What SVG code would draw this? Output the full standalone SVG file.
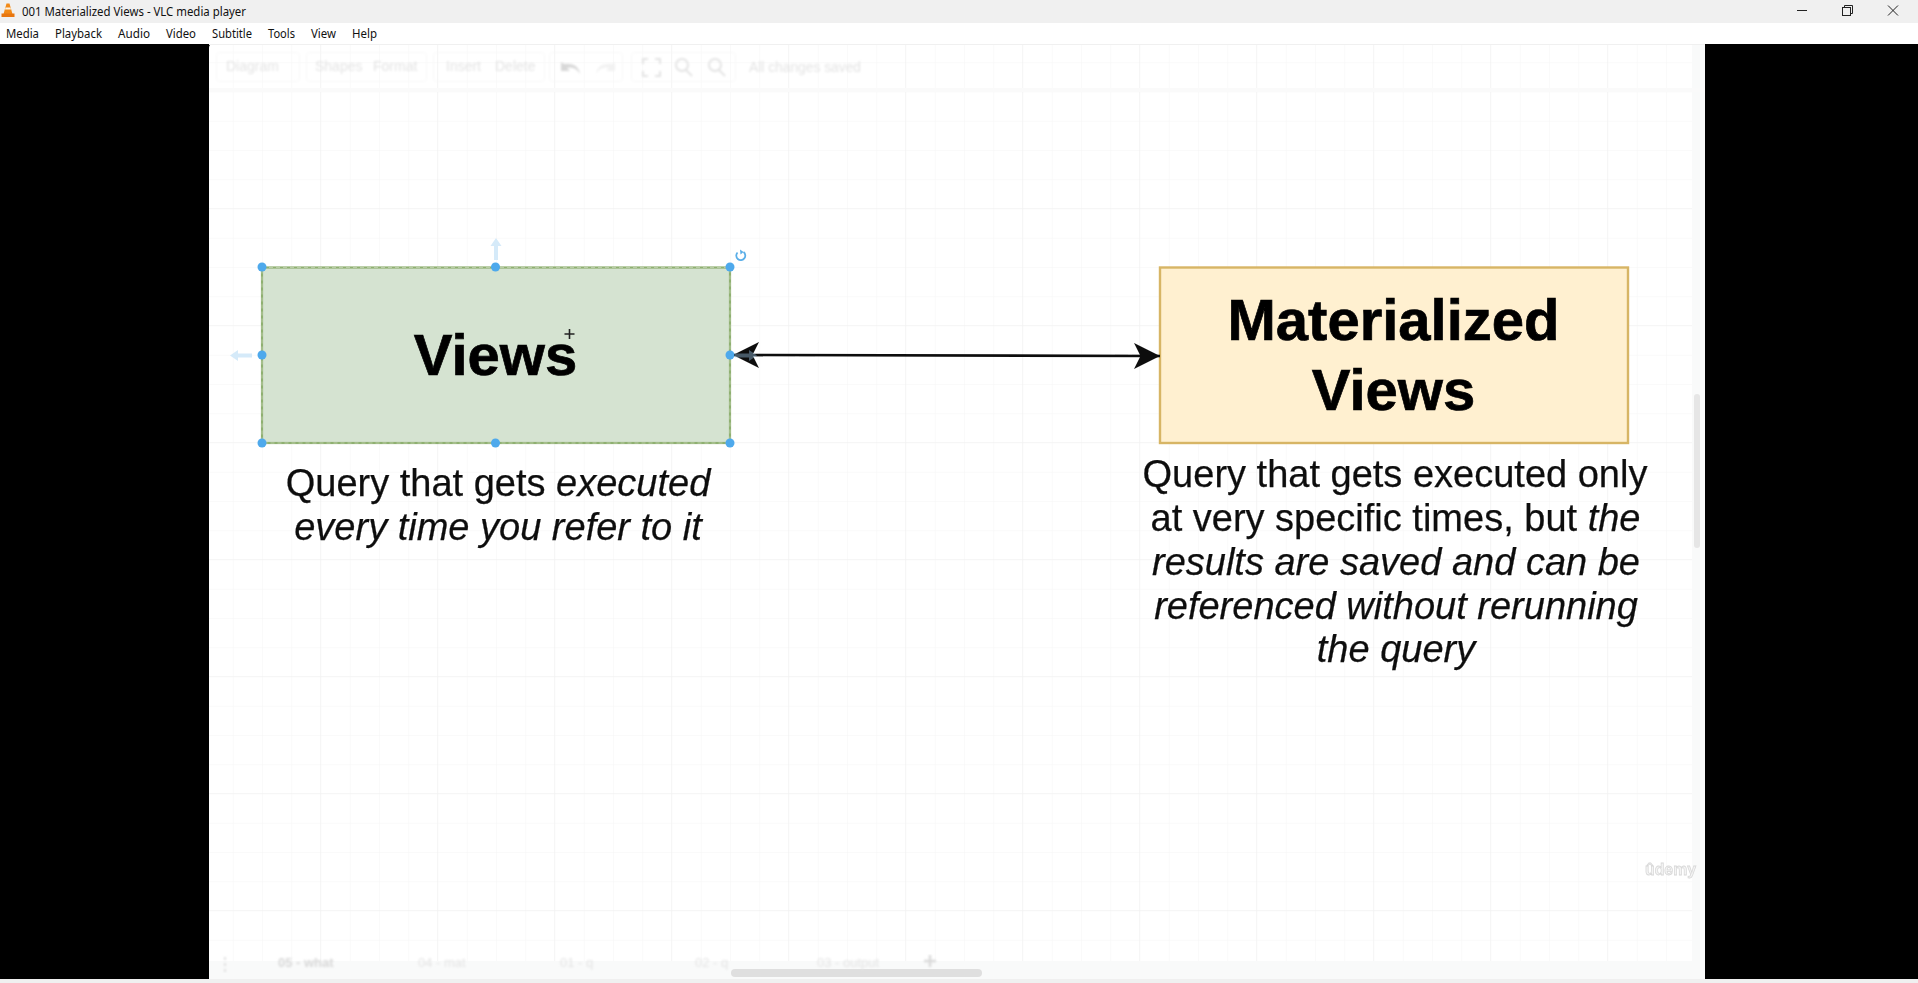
<svg xmlns="http://www.w3.org/2000/svg" width="1918" height="983" viewBox="0 0 1918 983">
<style>
.ui{font-family:"Noto Sans","Open Sans","Liberation Sans",sans-serif;font-size:12px;fill:#111}
.ghost{font-family:"Liberation Sans",Arial,sans-serif;font-size:14px;fill:#e4e4e4}
.ghostbox{fill:none;stroke:#f7f7f7;stroke-width:1}
.title{font-family:"Liberation Sans",Arial,sans-serif;font-size:58px;font-weight:700;fill:#000;stroke:#000;stroke-width:0.7;text-anchor:middle}
.desc{font-family:"Liberation Sans",Arial,sans-serif;font-size:38px;fill:#111;stroke:#111;stroke-width:0.25;text-anchor:middle}
.desc tspan.i{font-style:italic}
.h{fill:#4ea9ec}
.faint{fill:#d5eaf9}
.conn{stroke:#111;stroke-width:2.6;fill:none;marker-start:url(#headL);marker-end:url(#headR)}
</style>
<defs>
<pattern id="grid" x="262" y="267" width="29.25" height="29.25" patternUnits="userSpaceOnUse">
<path d="M0 0H29.25M0 0V29.25" fill="none" stroke="#f5f5f5" stroke-width="1"/>
</pattern>
<pattern id="gridMajor" x="671" y="91" width="117" height="117" patternUnits="userSpaceOnUse">
<path d="M0 0H117M0 0V117" fill="none" stroke="#f0f0f0" stroke-width="1"/>
</pattern>
<marker id="headR" markerUnits="userSpaceOnUse" markerWidth="28" markerHeight="30" refX="26" refY="15" orient="auto">
<path d="M26 15L0 2L6.500 15L0 28Z" fill="#0b0b0b"/>
</marker>
<marker id="headL" markerUnits="userSpaceOnUse" markerWidth="28" markerHeight="30" refX="2" refY="15" orient="auto">
<path d="M2 15L28 2L21.500 15L28 28Z" fill="#0b0b0b"/>
</marker>
<filter id="soft" x="-5%" y="-5%" width="110%" height="110%"><feGaussianBlur stdDeviation="0.9"/></filter>
<filter id="slight" x="-5%" y="-5%" width="110%" height="110%"><feGaussianBlur stdDeviation="0.45"/></filter>
<filter id="slightUser" filterUnits="userSpaceOnUse" x="700" y="320" width="490" height="70"><feGaussianBlur stdDeviation="0.45"/></filter>
</defs>

<rect width="1918" height="983" fill="#000"/>
<g id="window-chrome">
<rect width="1918" height="23" fill="#f0f0f0"/>
<rect y="23" width="1918" height="21" fill="#fff"/>
<rect y="979" width="1918" height="4" fill="#f0f0f0"/>
<g id="vlc-icon">
<path d="M6.500 3.500L9.500 3.500L12.500 14L3.500 14Z" fill="#f28a18"/>
<path d="M5.500 7.500L10.500 7.500L11 9.500L5 9.500Z" fill="#fdf2e0"/>
<path d="M1.500 13.500H14.500V17H1.500Z" fill="#e8760f"/>
</g>
<text class="ui" x="22" y="15.500" textLength="224" lengthAdjust="spacingAndGlyphs">001 Materialized Views - VLC media player</text>
<g id="menu">
<text class="ui" x="6" y="38" textLength="33" lengthAdjust="spacingAndGlyphs">Media</text>
<text class="ui" x="55" y="38" textLength="47" lengthAdjust="spacingAndGlyphs">Playback</text>
<text class="ui" x="118" y="38" textLength="32" lengthAdjust="spacingAndGlyphs">Audio</text>
<text class="ui" x="166" y="38" textLength="30" lengthAdjust="spacingAndGlyphs">Video</text>
<text class="ui" x="212" y="38" textLength="40" lengthAdjust="spacingAndGlyphs">Subtitle</text>
<text class="ui" x="268" y="38" textLength="27" lengthAdjust="spacingAndGlyphs">Tools</text>
<text class="ui" x="311" y="38" textLength="25" lengthAdjust="spacingAndGlyphs">View</text>
<text class="ui" x="352" y="38" textLength="25" lengthAdjust="spacingAndGlyphs">Help</text>
</g>
<g id="window-buttons" fill="none" stroke="#222" stroke-width="1">
<path d="M1797 10.500H1807"/>
<rect x="1842.500" y="7.500" width="8" height="8"/>
<path d="M1844.500 7V5.500H1852.500V13.500H1851"/>
<path d="M1888 5.500L1898 15.500M1898 5.500L1888 15.500"/>
</g>
</g>

<g id="page">
<path d="M209 48Q209 44 213 44H1701Q1705 44 1705 48V975Q1705 979 1701 979H213Q209 979 209 975Z" fill="#fff"/>
<rect x="209" y="44" width="1496" height="935" fill="url(#grid)"/>
<rect x="209" y="44" width="1496" height="935" fill="url(#gridMajor)"/>
<rect x="1692" y="44" width="13" height="935" fill="#f9fafa"/>
<rect x="209" y="961" width="1496" height="18" fill="#f9fafa"/>
<rect x="209" y="44" width="1496" height="1" fill="#f0f0f0"/>
<rect x="209" y="88" width="1496" height="4" fill="#fafafa"/>
<rect x="1694" y="394" width="6" height="154" rx="3" fill="#e6e6e6"/>
<rect x="731" y="969" width="251" height="8" rx="4" fill="#dfdfdf"/>
</g>

<g id="ghost-toolbar" filter="url(#soft)">
<rect class="ghostbox" x="216.500" y="52.500" width="83" height="29" rx="3"/>
<rect class="ghostbox" x="306.500" y="52.500" width="120" height="29" rx="3"/>
<rect class="ghostbox" x="433.500" y="52.500" width="111" height="29" rx="3"/>
<rect class="ghostbox" x="549.500" y="52.500" width="73" height="29" rx="3"/>
<rect class="ghostbox" x="631.500" y="52.500" width="104" height="29" rx="3"/>
<text class="ghost" x="226" y="71">Diagram</text>
<text class="ghost" x="315" y="71">Shapes</text>
<text class="ghost" x="373" y="71">Format</text>
<text class="ghost" x="446" y="71">Insert</text>
<text class="ghost" x="495" y="71">Delete</text>
<text class="ghost" x="749" y="72" textLength="112" lengthAdjust="spacingAndGlyphs">All changes saved</text>
<path d="M561 62v9h9l-3-3q8-2 13 6q-2-12-16-10z" fill="#d8d8d8"/>
<path d="M615 62v9h-9l3-3q-8-2-13 6q2-12 16-10z" fill="#f2f2f2"/>
<path d="M643 64v-5h5M655 59h5v5M660 71v5h-5M648 76h-5v-5" fill="none" stroke="#e4e4e4" stroke-width="2"/>
<g fill="none" stroke="#e4e4e4" stroke-width="2">
<circle cx="682" cy="65" r="6"/><path d="M686 70l6 6"/>
<circle cx="715" cy="65" r="6"/><path d="M719 70l6 6"/>
</g>
</g>

<g id="ghost-tabs" filter="url(#soft)">
<path d="M225 957v3M225 963v3M225 969v3" stroke="#e0e0e0" stroke-width="2"/>
<text class="ghost" x="278" y="967" font-weight="700" style="font-size:13px;fill:#d8d8d8">05 - what</text>
<text class="ghost" x="418" y="967" style="font-size:13px">04 - mat</text>
<text class="ghost" x="560" y="967" style="font-size:13px">01 - q</text>
<text class="ghost" x="695" y="967" style="font-size:13px">02 - q</text>
<text class="ghost" x="817" y="967" style="font-size:13px">03 - output</text>
<path d="M930 955v12M924 961h12" stroke="#dadada" stroke-width="2.500"/>
</g>

<g id="watermark" filter="url(#slight)">
<text x="1645" y="875" font-family="'Liberation Sans',Arial,sans-serif" font-size="17" font-weight="700" fill="#f4f4f4" stroke="#d8d8d8" stroke-width="0.800" textLength="51" lengthAdjust="spacingAndGlyphs">ûdemy</text>
</g>

<g id="selection-hints">
<path d="M496 238l5.500 8h-3.500v14h-4v-14h-3.500z" class="faint"/>
<path d="M230 355.500l8-5.500v3.500h14v4h-14v3.500z" class="faint"/>
</g>

<g id="node-views" filter="url(#slight)">
<rect x="262" y="267.500" width="468" height="175.500" fill="#d5e3d1" stroke="#8fb071" stroke-width="2.200"/>
<rect x="262" y="267.500" width="468" height="175.500" fill="none" stroke="#b9cca6" stroke-width="1" stroke-dasharray="4 3"/>
<text class="title" x="495.500" y="375">Views</text>
</g>

<g id="node-materialized" filter="url(#slight)">
<rect x="1160" y="267.500" width="468" height="175.500" fill="#fff0d0" stroke="#d7b565" stroke-width="2.400"/>
<text class="title" x="1393.500" y="340">Materialized</text>
<text class="title" x="1393.500" y="410">Views</text>
</g>

<g id="connectors" filter="url(#slightUser)">
<path class="conn" d="M733 355L1160 356"/>
</g>

<g id="selection-handles">
<circle class="h" cx="262" cy="267" r="4.500"/>
<circle class="h" cx="495.500" cy="267" r="4.500"/>
<circle class="h" cx="730" cy="267" r="4.500"/>
<circle class="h" cx="262" cy="355" r="4.500"/>
<circle class="h" cx="730" cy="355" r="4.500"/>
<circle class="h" cx="262" cy="443" r="4.500"/>
<circle class="h" cx="495.500" cy="443" r="4.500"/>
<circle class="h" cx="730" cy="443" r="4.500"/>
<path d="M737.500 252.500a4.500 4.500 0 1 0 6-0.500" fill="none" stroke="#5aaee8" stroke-width="1.800"/>
<path d="M740 249.500l3.500 2.500l-3 2.500z" fill="#5aaee8"/>
<path d="M757 355.500l-8-5.500v3.500h-14v4h14v3.500z" fill="#9fcdf0" opacity="0.4"/>
</g>

<g id="cursor">
<path d="M569.500 329v10M564.500 334h10" stroke="#222" stroke-width="1.600" fill="none"/>
</g>

<g id="text-views" filter="url(#slight)">
<text class="desc" x="498" y="496">Query that gets <tspan class="i">executed</tspan></text>
<text class="desc" x="498" y="540"><tspan class="i">every time you refer to it</tspan></text>
</g>

<g id="text-materialized" filter="url(#slight)">
<text class="desc" x="1395" y="487">Query that gets executed only</text>
<text class="desc" x="1395.500" y="531">at very specific times, but <tspan class="i">the</tspan></text>
<text class="desc" x="1396" y="575"><tspan class="i">results are saved and can be</tspan></text>
<text class="desc" x="1396" y="619"><tspan class="i">referenced without rerunning</tspan></text>
<text class="desc" x="1396" y="662"><tspan class="i">the query</tspan></text>
</g>
</svg>
